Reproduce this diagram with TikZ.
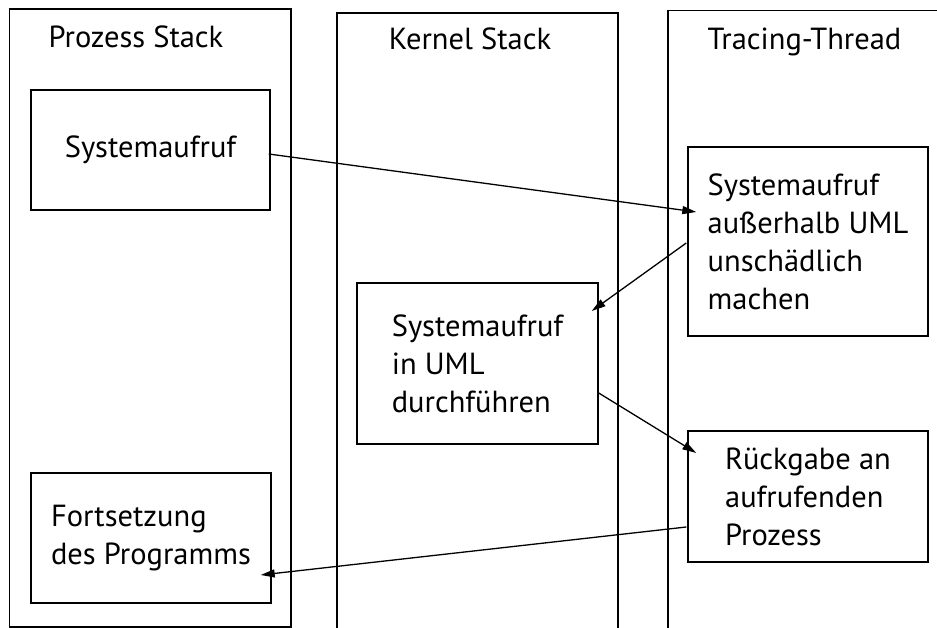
\documentclass[tikz,border=0pt]{standalone}
\usepackage{fontspec}
\setmainfont{PT Sans}
\usetikzlibrary{arrows.meta,calc}

\tikzset{
  box/.style={draw, line width=1.4pt, align=left, inner sep=0pt},
  title/.style={anchor=base},
  flow/.style={line width=1.3pt, -{Triangle[length=14pt,width=8pt]}}
}

\begin{document}
\begin{tikzpicture}[x=1pt, y=1pt, font=\fontsize{30.5}{38}\selectfont]
            \useasboundingbox (0,0) rectangle (937,628);

            % stack columns
            \draw[line width=1.4pt] (9.5,1) rectangle (291,619);
            \draw[line width=1.4pt] (337,0) -- (337,615) -- (618,615) -- (618,0);
            \draw[line width=1.4pt] (668,0) -- (668,617.5) -- (940,617.5);

            \node[title] (t1) at (136,580) {Prozess Stack};
            \node[title] (t2) at (470,578) {Kernel Stack};
            \node[title] (t3) at (804.5,578) {Tracing-Thread};

            \node[box, minimum width=239pt, minimum height=120pt] (sys) at (150.5,478) {Systemaufruf};
            \node[box, minimum width=240pt, minimum height=130pt] (fort) at (151,90) {Fortsetzung\\des Programms};
            \node[box, minimum width=241pt, minimum height=161pt] (kern) at (477.5,264.5) {Systemaufruf\\in UML\\durchführen};
            \node[box, minimum width=240pt, minimum height=189pt] (trace1) at (808,386.5) {Systemaufruf\\außerhalb UML\\unschädlich\\machen};
            \node[box, minimum width=240pt, minimum height=131pt] (trace2) at (808,131.5) {Rückgabe an\\aufrufenden\\Prozess};

            \draw[flow] ($(sys.east)+(-2,-4)$) -- ($(trace1.west)+(9,29.5)$);
            \draw[flow] ($(trace1.west)+(-1,-1.5)$) -- ($(kern.east)+(-7,52.5)$);
            \draw[flow] ($(kern.east)+(0,-29.5)$) -- ($(trace2.west)+(9,43.5)$);
            \draw[flow] ($(trace2.west)+(-1,-30.5)$) -- ($(fort.east)+(-11,-37)$);
\end{tikzpicture}
\end{document}
